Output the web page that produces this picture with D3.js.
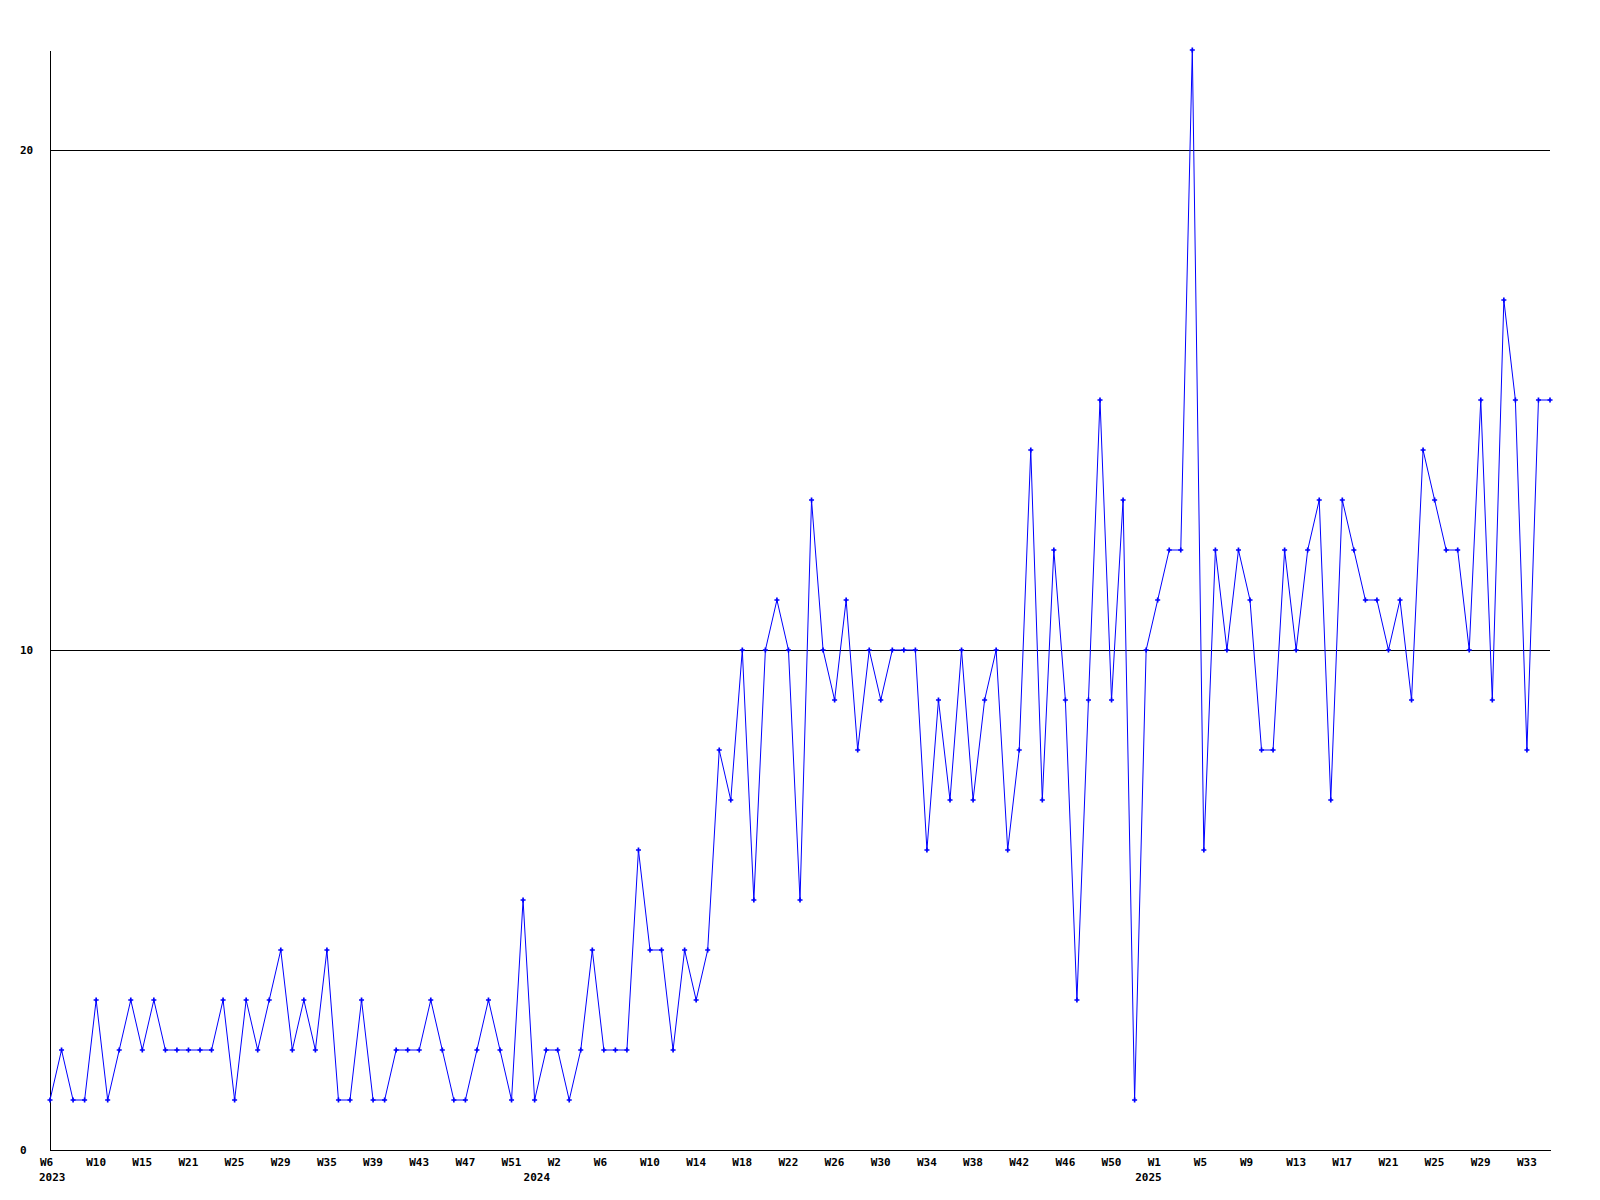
<!DOCTYPE html>
<html>
<head>
<meta charset="utf-8">
<script src="https://cdn.jsdelivr.net/npm/d3@7"></script>
<style>
  html, body { margin: 0; padding: 0; background: #ffffff; }
  svg { display: block; }
  text { font-family: "DejaVu Sans Mono", "Liberation Mono", monospace; font-weight: bold; font-size: 11px; fill: #000; }
</style>
</head>
<body>
<svg id="chart" width="1600" height="1200"></svg>
<script>
// ---- data ----
const values = [
  1,2,1,1,3,1,2,3,2,3,2,2,2,2,2,3,1,3,2,3,4,
  2,3,2,4,1,1,3,1,1,2,2,2,3,2,1,1,2,3,2,1,5,
  1,2,2,1,2,4,2,2,2,6,4,4,2,4,3,4,8,
  7,10,5,10,11,10,5,13,10,9,11,8,10,9,10,
  10,10,6,9,7,10,7,9,10,6,8,14,7,12,
  9,3,9,15,9,13,1,10,11,12,12,
  22,6,12,10,12,11,8,8,12,10,12,13,7,13,
  12,11,11,10,11,9,14,13,12,12,10,15,9,17,15,8,15,15
];
const weekLabels = ["W6","W10","W15","W21","W25","W29","W35","W39","W43","W47","W51",
  "W2","W6","W10","W14","W18","W22","W26","W30","W34","W38","W42","W46","W50",
  "W1","W5","W9","W13","W17","W21","W25","W29","W33"];
const labelEvery = 4;
const yearLabels = ["2023","2024","2025"];
const yearStartIndex = [0,42,95];
const yTicks = [0,10,20];
const yMax = 22;

// ---- layout ----
const mLeft = 50, mRight = 1550, mTop = 50, mBottom = 1150;
const svg = d3.select("#chart");
svg.append("rect").attr("width",1600).attr("height",1200).attr("fill","#fff");

const x = d3.scalePoint().domain(d3.range(values.length)).range([mLeft, mRight]);
const y = d3.scaleLinear().domain([0, yMax]).range([mBottom, mTop]);

// y axis + gridlines
const yAxis = svg.append("g").attr("transform",`translate(${mLeft},0)`)
  .call(d3.axisLeft(y).tickValues(yTicks).tickSize(-(mRight-mLeft)).tickSizeOuter(0).tickFormat(d3.format("d")));
yAxis.selectAll("path.domain").attr("stroke","#000").attr("shape-rendering","crispEdges");
yAxis.selectAll(".tick line").attr("stroke", d => d === 0 ? "none" : "#000").attr("shape-rendering","crispEdges");
yAxis.selectAll(".tick text").attr("text-anchor","start").attr("x", 20-mLeft).attr("dy","0.35em")
  .style("font-family",'"DejaVu Sans Mono", monospace').style("font-weight","bold").style("font-size","11px");

// x axis
const tickIdx = d3.range(0, values.length, labelEvery).slice(0, weekLabels.length);
const xAxis = svg.append("g").attr("transform",`translate(0,${mBottom})`)
  .call(d3.axisBottom(x).tickValues(tickIdx).tickSize(0).tickSizeOuter(0).tickFormat((d,i) => weekLabels[i]));
xAxis.selectAll("path.domain").attr("stroke","#000").attr("shape-rendering","crispEdges");
xAxis.selectAll(".tick text").attr("text-anchor","start").attr("x",-10.5).attr("y",16).attr("dy",null)
  .style("font-family",'"DejaVu Sans Mono", monospace').style("font-weight","bold").style("font-size","11px");

// year labels
svg.append("g").selectAll("text").data(yearLabels).join("text")
  .attr("x",(d,i) => x(yearStartIndex[i]) - 11)
  .attr("y", mBottom + 31)
  .text(d => d);

// line
const line = d3.line().x((d,i) => x(i)).y(d => y(d));
svg.append("path").datum(values).attr("d", line)
  .attr("fill","none").attr("stroke","#0000ff").attr("stroke-width",1);

// markers
const sym = d3.symbol().type(d3.symbolCross).size(14);
svg.append("g").selectAll("path").data(values).join("path")
  .attr("transform",(d,i) => `translate(${x(i)},${y(d)})`)
  .attr("d", sym).attr("fill","#0000ff");
</script>
</body>
</html>
